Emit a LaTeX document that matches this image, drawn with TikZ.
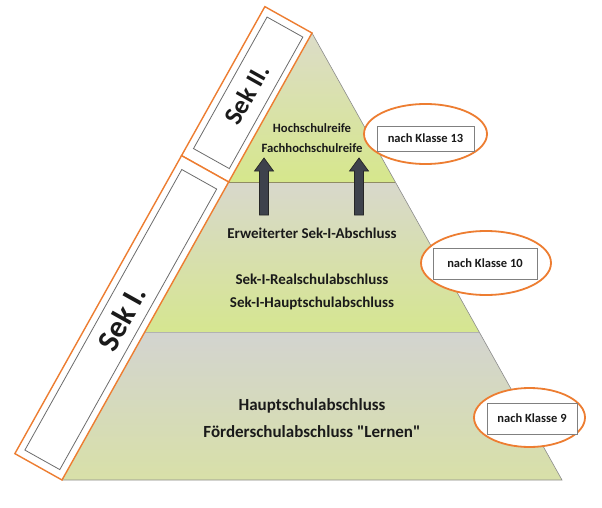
\documentclass[tikz,border=0pt]{standalone}
\usepackage{fontspec}
\setmainfont{Carlito}
\newfontfamily\qfont{Carlito}[Ligatures=ResetAll]
\newcommand{\sq}{{\qfont\bfseries"}}
\usetikzlibrary{calc,shapes.geometric}
\definecolor{orng}{HTML}{ED7D31}
\definecolor{tA}{HTML}{DCDCC8}
\definecolor{tB}{HTML}{D6E78C}
\definecolor{mA}{HTML}{D8D8CC}
\definecolor{mB}{HTML}{D6E690}
\definecolor{bA}{HTML}{D3D4D0}
\definecolor{bB}{HTML}{D8E0A8}
\definecolor{edgec}{HTML}{8C8C8C}
\definecolor{arrc}{HTML}{3E424C}
\definecolor{txt}{HTML}{1A1A1A}
\tikzset{
  tier/.style={draw=edgec, line width=0.6pt},
  band/.style={draw=orng, fill=white, line width=1.4pt, line join=miter},
  innerbox/.style={draw=gray!85!black, line width=0.8pt},
  sektext/.style={rotate=60.78, font=\bfseries, text=txt, inner sep=0pt},
  lvltext/.style={font=\bfseries, text=txt, inner sep=0pt},
  blockarrow/.style={fill=arrc, draw=black!85, line width=0.7pt, line join=miter},
  kring/.style={ellipse, draw=orng, fill=white, line width=1.8pt, inner sep=0pt},
  kbox/.style={draw=gray, fill=white, line width=0.8pt, font=\bfseries\fontsize{12.5}{14}\selectfont, text=txt, inner sep=0pt}
}
\begin{document}
\begin{tikzpicture}[x=1pt,y=-1pt]
\useasboundingbox (0,0) rectangle (602,508);
\fill[white] (0,0) rectangle (602,508);
% pyramid
\coordinate (A) at (312,33);
\coordinate (BL) at (62,480);
\coordinate (BR) at (562,480);
\coordinate (L1) at ($(A)!1/3!(BL)$);
\coordinate (R1) at ($(A)!1/3!(BR)$);
\coordinate (L2) at ($(A)!0.669!(BL)$);
\coordinate (R2) at ($(A)!0.669!(BR)$);
\coordinate (d) at (-0.4882,0.8729);
\coordinate (n) at (-0.8729,-0.4882);

\shade[top color=bA, bottom color=bB] (L2) -- (R2) -- (BR) -- (BL) -- cycle;
\shade[top color=mA, bottom color=mB] (L1) -- (R1) -- (R2) -- (L2) -- cycle;
\shade[top color=tA, bottom color=tB] (A) -- (R1) -- (L1) -- cycle;
\draw[tier] (A) -- (BR) -- (BL);
\draw[draw=gray!70!olive, line width=0.7pt] (L1) -- (R1);
\draw[draw=gray!60, line width=0.5pt] (L2) -- (R2);

% bands
\draw[band] (A) -- ($(A)+54*(n)$) -- ($(L1)+54*(n)$) -- (L1) -- cycle;
\draw[band] (L1) -- ($(L1)+54*(n)$) -- ($(BL)+54*(n)$) -- (BL) -- cycle;
\draw[innerbox] ($(A)+8*(d)+6*(n)$) -- ($(A)+8*(d)+47*(n)$) -- ($(L1)-12*(d)+47*(n)$) -- ($(L1)-12*(d)+6*(n)$) -- cycle;
\draw[innerbox] ($(L1)+12*(d)+7*(n)$) -- ($(L1)+12*(d)+47*(n)$) -- ($(BL)-8*(d)+47*(n)$) -- ($(BL)-8*(d)+7*(n)$) -- cycle;
\node[sektext, font=\bfseries\fontsize{26}{28}\selectfont] (sek2) at ($(A)+85.3*(d)+27*(n)$) {Sek II.};
\node[sektext, font=\bfseries\fontsize{31}{33}\selectfont] (sek1) at ($(A)+341.4*(d)+27*(n)$) {Sek I.};

% arrows
\foreach \cx in {264,359} {
  \draw[blockarrow] (\cx-4.5,215) -- (\cx-4.5,171) -- (\cx-9.5,171) -- (\cx,158) -- (\cx+9.5,171) -- (\cx+4.5,171) -- (\cx+4.5,215) -- cycle;
}

% level texts
\node[lvltext, font=\bfseries\fontsize{12.7}{14}\selectfont] (t1) at (312,128) {Hochschulreife};
\node[lvltext, font=\bfseries\fontsize{12.7}{14}\selectfont] (t2) at (312,148) {Fachhochschulreife};
\node[lvltext, font=\bfseries\fontsize{15}{17}\selectfont] (t3) at (312,233) {Erweiterter Sek-I-Abschluss};
\node[lvltext, font=\bfseries\fontsize{15}{17}\selectfont] (t4) at (312,279) {Sek-I-Realschulabschluss};
\node[lvltext, font=\bfseries\fontsize{15}{17}\selectfont] (t5) at (312,303) {Sek-I-Hauptschulabschluss};
\node[lvltext, font=\bfseries\fontsize{17}{19}\selectfont] (t6) at (312,406) {Hauptschulabschluss};
\node[lvltext, font=\bfseries\fontsize{17}{19}\selectfont] (t7) at (312,432) {Förderschulabschluss \sq Lernen\sq};

% class labels
\node[kring, minimum width=123pt, minimum height=60pt] (e13) at (425.5,134) {};
\node[kbox, minimum width=97pt, minimum height=25pt] (k13) at (425.5,138.5) {nach Klasse 13};
\node[kring, minimum width=130pt, minimum height=64pt] (e10) at (486,263) {};
\node[kbox, minimum width=104pt, minimum height=31pt] (k10) at (485,263.5) {nach Klasse 10};
\node[kring, minimum width=111pt, minimum height=59pt] (e9) at (529.5,417.5) {};
\node[kbox, minimum width=90pt, minimum height=31pt] (k9) at (532,418.5) {nach Klasse 9};
\end{tikzpicture}
\end{document}
